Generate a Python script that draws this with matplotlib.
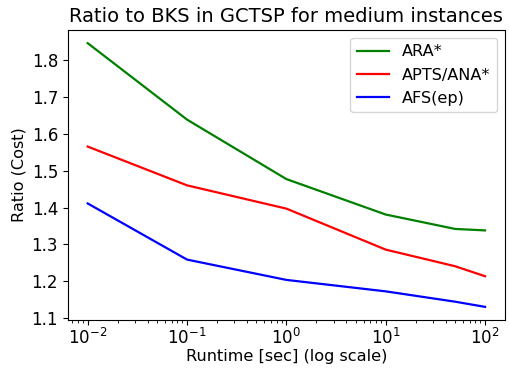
import matplotlib
matplotlib.use("Agg")
import matplotlib.pyplot as plt

runtimes = [0.01, 0.1, 1, 10, 50, 100]
ara = [1.845, 1.638, 1.477, 1.381, 1.342, 1.338]
apts_ana = [1.565, 1.460, 1.397, 1.286, 1.241, 1.214]
afs_ep = [1.411, 1.259, 1.204, 1.173, 1.145, 1.131]

fig, ax = plt.subplots(figsize=(5.1, 3.7), dpi=100)
fig.subplots_adjust(left=0.133, right=0.99, top=0.919, bottom=0.135)

ax.plot(runtimes, ara, color="green", label="ARA*", lw=1.6)
ax.plot(runtimes, apts_ana, color="red", label="APTS/ANA*", lw=1.6)
ax.plot(runtimes, afs_ep, color="blue", label="AFS(ep)", lw=1.6)

ax.set_xscale("log")
ax.set_title("Ratio to BKS in GCTSP for medium instances", fontsize=14)
ax.set_xlabel("Runtime [sec] (log scale)", fontsize=11.6, labelpad=1)
ax.set_ylabel("Ratio (Cost)", fontsize=11.6)
ax.tick_params(labelsize=12)
ax.tick_params(axis="x", pad=2)
ax.legend(fontsize=11.6, loc="upper right")

fig.savefig("out.png")
